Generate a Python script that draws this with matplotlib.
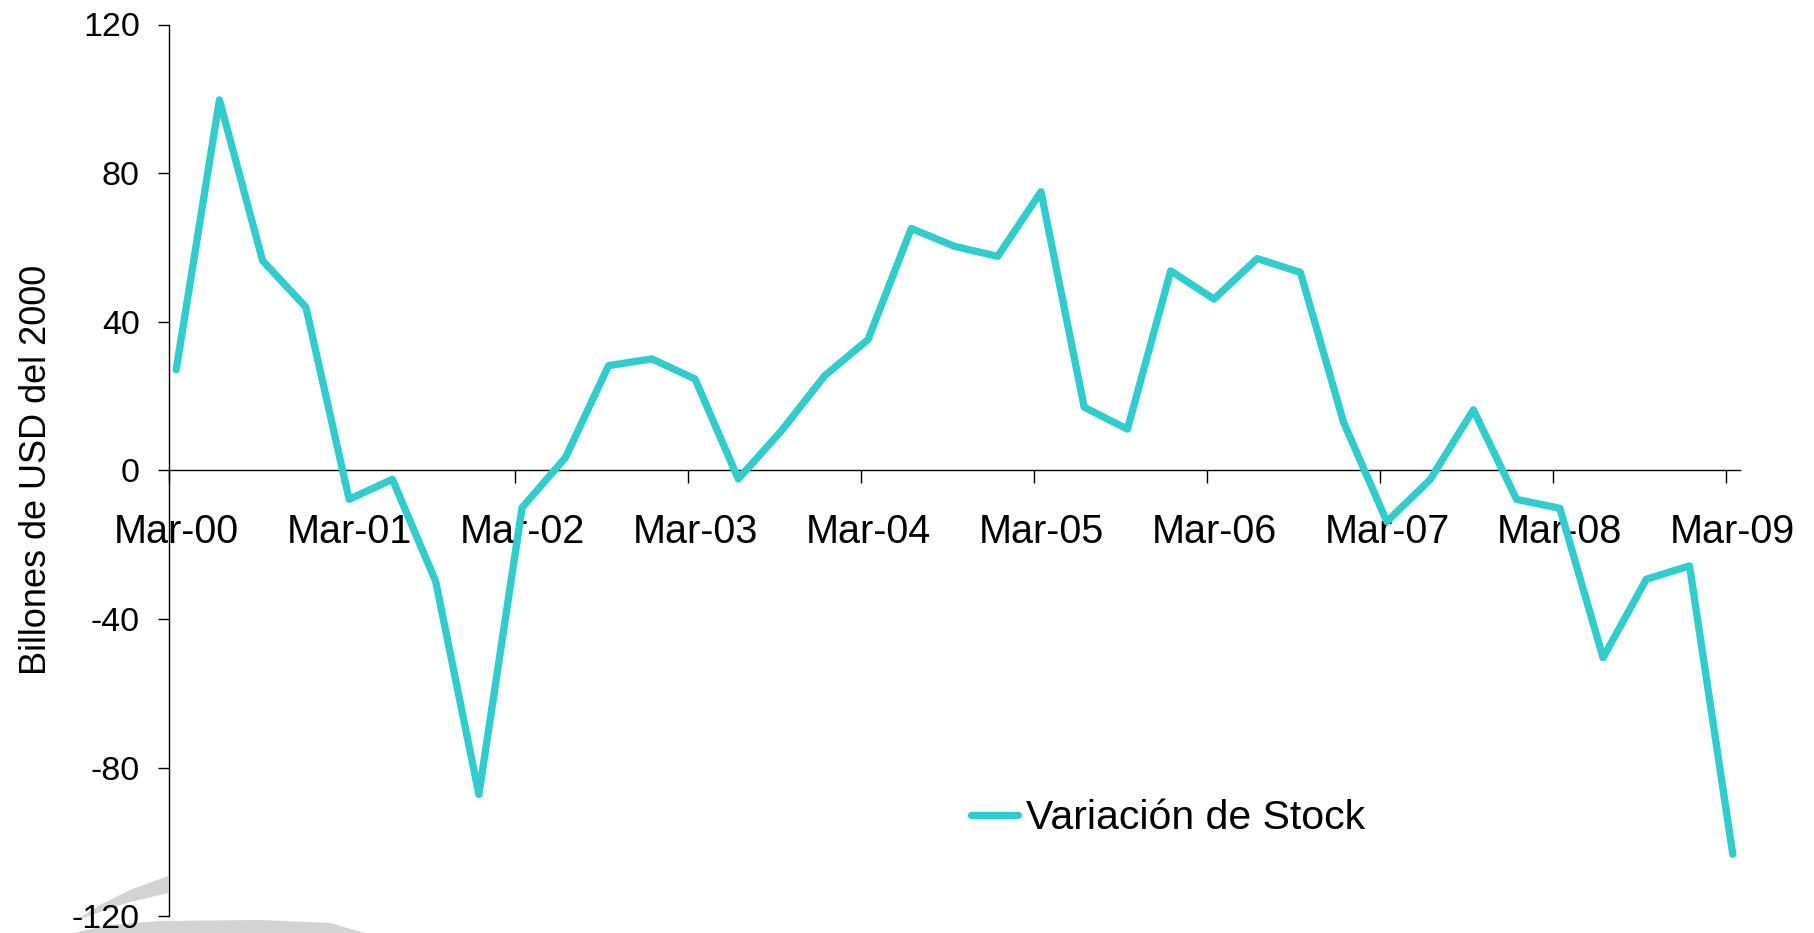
import matplotlib
matplotlib.use('Agg')
import matplotlib.pyplot as plt
from matplotlib.patches import Polygon
from matplotlib.ticker import FixedLocator
import pandas as pd

plt.rcParams['font.family'] = ['Liberation Sans', 'DejaVu Sans']
plt.rcParams['axes.unicode_minus'] = False

# ---- data ----
quarters = pd.period_range('2000Q1', '2009Q1', freq='Q')   # Mar-00 ... Mar-09
stock_var = [27.1, 99.7, 56.4, 43.9, -7.8, -2.4, -29.8, -87.2, -10.0, 3.4,
             28.2, 30.0, 24.6, -2.3, 10.7, 25.5, 35.2, 65.1, 60.3, 57.6,
             75.0, 17.0, 11.1, 53.7, 46.1, 57.0, 53.3, 12.9, -13.8, -2.5,
             16.3, -7.8, -10.2, -50.4, -29.3, -25.7, -103.3]
year_labels = ['Mar-00', 'Mar-01', 'Mar-02', 'Mar-03', 'Mar-04',
               'Mar-05', 'Mar-06', 'Mar-07', 'Mar-08', 'Mar-09']
y_ticks = [-120, -80, -40, 0, 40, 80, 120]
series_name = 'Variación de Stock'
y_title = 'Billones de USD del 2000'

# month index (0 = Mar-00), date axis with monthly base unit
x = [(q.end_time.year - 2000) * 12 + (q.end_time.month - 3) for q in quarters]
label_pos = [12 * i for i in range(len(year_labels))]
tick_pos = [12 * i - 0.5 for i in range(len(year_labels))]

W, H = 1814, 933
fig = plt.figure(figsize=(W / 100, H / 100), dpi=100)
fig.patch.set_facecolor('white')

# faint watermark swoosh (lower left)
def fpts(pts):
    return [(px / W, 1 - py / H) for px, py in pts]

fig.add_artist(Polygon(fpts([(75, 921), (100, 905), (130, 890), (168, 876),
                             (168, 893), (130, 902), (100, 912)]),
                       closed=True, transform=fig.transFigure,
                       facecolor='#d3d3d3', edgecolor='none', zorder=-5))
fig.add_artist(Polygon(fpts([(73, 933), (110, 925), (160, 921), (260, 920),
                             (330, 923), (365, 933)]),
                       closed=True, transform=fig.transFigure,
                       facecolor='#d3d3d3', edgecolor='none', zorder=-5))

ax = fig.add_axes([169 / W, 1 - 916.3 / H, (1740 - 169) / W, (916.3 - 24.5) / H])
ax.set_facecolor('none')

ax.plot(x, stock_var, color='#33CCCC', lw=5.3, solid_capstyle='round',
        solid_joinstyle='round', label=series_name, zorder=3)

ax.set_xlim(-0.5, 108.5)
ax.set_ylim(-120, 120)

for s in ['top', 'right']:
    ax.spines[s].set_visible(False)
ax.spines['bottom'].set_position(('data', 0))
ax.spines['bottom'].set_linewidth(1.0)
ax.spines['left'].set_linewidth(1.0)

ax.set_yticks(y_ticks)
ax.set_yticklabels([str(v) for v in y_ticks])
ax.tick_params(axis='y', length=8, width=1.0, pad=13, labelsize=24.5,
               direction='out')

ax.set_xticks(label_pos)
ax.set_xticklabels(year_labels)
ax.xaxis.set_minor_locator(FixedLocator(tick_pos))
ax.tick_params(axis='x', which='major', length=0, pad=31, labelsize=28.5)
ax.tick_params(axis='x', which='minor', length=9, width=1.0, direction='out')

fig.text(37 / W, 1 - 470 / H, y_title, rotation=90, fontsize=26,
         ha='center', va='center')

leg = ax.legend(loc='center left', bbox_to_anchor=(971 / W, 1 - 818 / H),
                bbox_transform=fig.transFigure, frameon=False, fontsize=29.5,
                handlelength=1.15, handletextpad=0.2, borderpad=0,
                borderaxespad=0)

fig.savefig('out.png', dpi=100, facecolor='white')
